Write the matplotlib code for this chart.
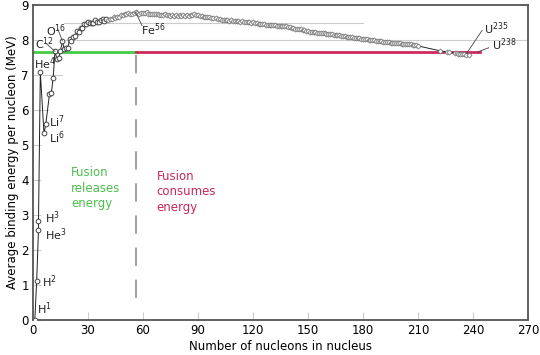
import matplotlib
matplotlib.use("Agg")
import matplotlib.pyplot as plt

# ---- data: mass number A and binding energy per nucleon (MeV) ----
mass_number = [1, 2, 3, 3, 4, 6, 7, 9, 10, 11, 12, 13, 14, 15, 16, 17, 18, 19, 20,
               21, 22, 23, 24, 25, 26, 27, 28, 29, 30, 31, 32, 33, 34, 35, 36, 37,
               38, 39, 40, 41, 42, 43, 44, 45, 46, 47, 48, 49, 50, 51, 52, 53, 54,
               55, 56, 57, 58, 59, 60, 61, 62, 63, 64, 65, 66, 67, 68, 69, 70, 71,
               72, 73, 74, 75, 76, 77, 78, 79, 80, 81, 82, 83, 84, 85, 86, 87, 88,
               89, 90, 91, 92, 93, 94, 95, 96, 97, 98, 100, 101, 102, 103, 104, 105,
               106, 107, 108, 109, 110, 111, 112, 113, 114, 115, 116, 117, 118, 119,
               120, 121, 122, 123, 124, 125, 126, 127, 128, 129, 130, 131, 132, 133,
               134, 135, 136, 137, 138, 139, 140, 141, 142, 143, 144, 145, 146, 147,
               148, 149, 150, 151, 152, 153, 154, 155, 156, 157, 158, 159, 160, 161,
               162, 163, 164, 165, 166, 167, 168, 169, 170, 171, 172, 173, 174, 175,
               176, 177, 178, 179, 180, 181, 182, 183, 184, 185, 186, 187, 188, 189,
               190, 191, 192, 193, 194, 195, 196, 197, 198, 199, 200, 201, 202, 203,
               204, 205, 206, 207, 208, 209, 210, 222, 226, 227, 230, 231, 232, 233,
               234, 235, 236, 238]
binding_energy = [0.0, 1.112, 2.573, 2.827, 7.074, 5.332, 5.606, 6.463, 6.475, 6.928,
                  7.680, 7.470, 7.476, 7.699, 7.976, 7.751, 7.767, 7.779, 8.032,
                  7.972, 8.080, 8.112, 8.261, 8.223, 8.334, 8.332, 8.448, 8.449,
                  8.521, 8.481, 8.493, 8.498, 8.584, 8.520, 8.520, 8.570, 8.614,
                  8.557, 8.595, 8.576, 8.617, 8.601, 8.658, 8.619, 8.656, 8.661,
                  8.723, 8.711, 8.756, 8.742, 8.776, 8.760, 8.736, 8.765, 8.790,
                  8.770, 8.732, 8.768, 8.781, 8.765, 8.795, 8.752, 8.736, 8.757,
                  8.760, 8.734, 8.756, 8.725, 8.722, 8.718, 8.732, 8.705, 8.725,
                  8.701, 8.711, 8.695, 8.718, 8.688, 8.711, 8.696, 8.711, 8.696,
                  8.717, 8.697, 8.708, 8.705, 8.733, 8.714, 8.710, 8.693, 8.693,
                  8.664, 8.667, 8.649, 8.654, 8.635, 8.635, 8.619, 8.601, 8.607,
                  8.584, 8.585, 8.571, 8.580, 8.554, 8.567, 8.548, 8.551, 8.537,
                  8.545, 8.523, 8.532, 8.517, 8.523, 8.510, 8.517, 8.499, 8.505,
                  8.482, 8.478, 8.472, 8.473, 8.458, 8.463, 8.445, 8.443, 8.431,
                  8.438, 8.424, 8.428, 8.410, 8.408, 8.397, 8.403, 8.392, 8.394,
                  8.378, 8.376, 8.354, 8.346, 8.330, 8.327, 8.309, 8.304, 8.281,
                  8.280, 8.263, 8.262, 8.239, 8.244, 8.229, 8.225, 8.213, 8.215,
                  8.204, 8.202, 8.189, 8.184, 8.173, 8.174, 8.162, 8.159, 8.147,
                  8.142, 8.132, 8.130, 8.115, 8.106, 8.098, 8.097, 8.087, 8.084,
                  8.069, 8.061, 8.052, 8.049, 8.039, 8.035, 8.023, 8.018, 8.008,
                  8.005, 7.991, 7.989, 7.978, 7.973, 7.963, 7.962, 7.948, 7.948,
                  7.938, 7.936, 7.927, 7.927, 7.916, 7.912, 7.905, 7.906, 7.898,
                  7.897, 7.887, 7.880, 7.878, 7.875, 7.870, 7.868, 7.848, 7.834,
                  7.694, 7.662, 7.651, 7.631, 7.618, 7.615, 7.604, 7.600, 7.591,
                  7.586, 7.570]

# labelled nuclides
label_texts = [r"H$^1$", r"H$^2$", r"H$^3$", r"He$^3$", r"He$^4$", r"Li$^7$", r"Li$^6$",
               r"C$^{12}$", r"O$^{16}$", r"Fe$^{56}$", r"U$^{235}$", r"U$^{238}$"]
label_x = [2.2, 4.8, 6.4, 6.4, 0.4, 8.6, 8.6, 1.2, 7.0, 59.0, 246.0, 250.5]
label_y = [0.32, 1.1, 2.92, 2.44, 7.33, 5.66, 5.2, 7.9, 8.28, 8.3, 8.33, 7.86]
leader_to_x = [None, None, None, None, None, None, None, 12.0, 16.0, 56.0, 236.5, 242.5]
leader_to_y = [None, None, None, None, None, None, None, 7.68, 7.98, 8.79, 7.62, 7.66]
leader_from_x = [None, None, None, None, None, None, None, 6.8, 13.5, 59.5, 245.0, 248.5]
leader_from_y = [None, None, None, None, None, None, None, 7.92, 8.32, 8.42, 8.28, 7.78]

# partial horizontal guide lines: (y, x start, x end)
guide_y = [8.5, 8.0, 7.0, 6.0]
guide_x0 = [17, 15, 5.5, 0]
guide_x1 = [180, 270, 16, 8]

fusion_boundary_a = 56
fusion_level = 7.66
fusion_end_a = 244

x_ticks = list(range(0, 271, 30))
y_ticks = list(range(0, 10))

# ---- figure ----
fig = plt.figure(figsize=(5.4, 3.55), dpi=100)
ax = fig.add_axes([0.0611, 0.0986, 0.9167, 0.887])

for gy, g0, g1 in zip(guide_y, guide_x0, guide_x1):
    ax.plot([g0, g1], [gy, gy], color="#cccccc", lw=0.8, zorder=1)

ax.plot([0, fusion_boundary_a], [fusion_level, fusion_level], color="#44cc44", lw=2, zorder=2)
ax.plot([fusion_boundary_a, fusion_end_a], [fusion_level, fusion_level], color="#cc2b5e", lw=2, zorder=2)
ax.plot([fusion_boundary_a, fusion_boundary_a], [fusion_level - 0.1, 0.25], color="#888888",
        lw=1.1, dashes=(12, 9), zorder=2)

light = [a <= 40 for a in mass_number]
ax.plot(mass_number, binding_energy, color="#222222", lw=0.7, zorder=3)
ax.plot([a for a, l in zip(mass_number, light) if l],
        [b for b, l in zip(binding_energy, light) if l],
        ls="none", marker="o", ms=3.4, mfc="white", mec="#444444", mew=0.7, zorder=4)
ax.plot([a for a, l in zip(mass_number, light) if not l],
        [b for b, l in zip(binding_energy, light) if not l],
        ls="none", marker="D", ms=2.6, mfc="white", mec="#666666", mew=0.5, zorder=4)

for t, lx, ly, px, py, fx, fy in zip(label_texts, label_x, label_y, leader_to_x,
                                      leader_to_y, leader_from_x, leader_from_y):
    ax.text(lx, ly, t, fontsize=8.0, ha="left", va="center", color="#222222", zorder=5)
    if px is not None:
        ax.plot([fx, px], [fy, py], color="#444444", lw=0.6, zorder=5)

ax.text(20.7, 3.77, "Fusion\nreleases\nenergy", color="#4cbf4c", fontsize=8.5,
        ha="left", va="center", linespacing=1.25)
ax.text(67.5, 3.66, "Fusion\nconsumes\nenergy", color="#c8285a", fontsize=8.5,
        ha="left", va="center", linespacing=1.25)

ax.set_xlim(0, 270)
ax.set_ylim(0, 9)
ax.set_xticks(x_ticks)
ax.set_yticks(y_ticks)
ax.tick_params(direction="in", length=6, width=0.8, color="#cccccc", labelsize=8.5,
               pad=3)
for s in ax.spines.values():
    s.set_color("#555555")
    s.set_linewidth(1.3)
ax.set_xlabel("Number of nucleons in nucleus", fontsize=8.5, labelpad=2)
ax.set_ylabel("Average binding energy per nucleon (MeV)", fontsize=8.5, labelpad=2)

fig.savefig("out.png", dpi=100)
